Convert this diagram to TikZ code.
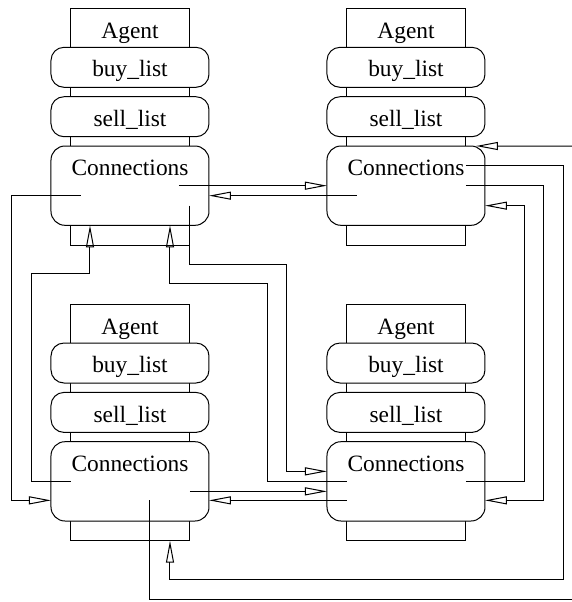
\documentclass[tikz,border=0pt]{standalone}
\usepackage{fontspec}
\setmainfont{Liberation Serif}
\usepackage{tikz}
\usetikzlibrary{positioning, calc, arrows.meta}

\tikzset{
	agentbox/.style={draw, minimum width=59.3pt, inner sep=0pt, outer sep=0pt, text height=15pt, text depth=103.35pt},
	listbox/.style={draw, fill=white, rounded corners=6.5pt, minimum width=79pt, inner sep=0pt, outer sep=0pt, text height=14.8pt, text depth=5.2pt},
	connbox/.style={listbox, rounded corners=7pt, text depth=24.85pt},
	flow/.style={-{Triangle[open, length=11pt, width=4pt]}}
}

\begin{document}
\begin{tikzpicture}[x=0.5pt, y=-0.5pt, line width=0.5pt, every node/.style={font=\fontsize{11.7}{13}\selectfont}]
					\useasboundingbox (0,0) rectangle (572,602);
					
					\node [agentbox, anchor=north] (nw) at (130,8.3) {Agent};
					\node [listbox, below=19.5pt of nw.north] (nw-buy) {buy\_list};
					\node [listbox, below=4.7pt of nw-buy] (nw-sell) {sell\_list};
					\node [connbox, below=4.65pt of nw-sell] (nw-conn) {Connections};
					
					\node [agentbox, anchor=north] (ne) at (406,8.3) {Agent};
					\node [listbox, below=19.5pt of ne.north] (ne-buy) {buy\_list};
					\node [listbox, below=4.7pt of ne-buy] (ne-sell) {sell\_list};
					\node [connbox, below=4.65pt of ne-sell] (ne-conn) {Connections};
					
					\node [agentbox, anchor=north] (sw) at (130,304) {Agent};
					\node [listbox, below=19.5pt of sw.north] (sw-buy) {buy\_list};
					\node [listbox, below=4.7pt of sw-buy] (sw-sell) {sell\_list};
					\node [connbox, below=4.65pt of sw-sell] (sw-conn) {Connections};
					
					\node [agentbox, anchor=north] (se) at (406,304) {Agent};
					\node [listbox, below=19.5pt of se.north] (se-buy) {buy\_list};
					\node [listbox, below=4.7pt of se-buy] (se-sell) {sell\_list};
					\node [connbox, below=4.65pt of se-sell] (se-conn) {Connections};
					
					\coordinate (edge-s) at (572,599.3);
					\coordinate (edge-n) at (572,146);
					
					\draw [flow] ($(nw-conn)+(49,0)$) -- (ne-conn.west);
					\draw [flow] ($(ne-conn)+(-49,10)$) -- ($(nw-conn.east)+(0,10)$);
					\draw [flow] ($(nw-conn)+(-49,10)$) -- ++(-69,0) |- ($(sw-conn.west)+(0,19)$);
					\draw [flow] ($(nw-conn)+(60,20)$) |- ++(97,59) |- ($(se-conn.west)+(0,-10)$);
					\draw [flow] ($(se-conn)+(-59,0)$) -| ++(-79,-198) -| ($(nw-conn.south)+(40,0)$);
					\draw [flow] ($(sw-conn)+(-59,0)$) -| ++(-39,-207.5) -| ($(nw-conn.south)+(-40,0)$);
					\draw [flow] ($(sw-conn)+(60,10)$) -- ($(se-conn.west)+(0,10)$);
					\draw [flow] ($(se-conn)+(-59,19)$) -- ($(sw-conn.east)+(0,19)$);
					\draw ($(sw-conn)+(20,19)$) |- (edge-s);
					\draw [flow] (edge-n) -- ($(ne-conn.north east)+(-9,0)$);
					\draw [flow] ($(ne-conn)+(60,-20)$) -| ++(98,413.6) -| ($(sw.south)+(40,0)$);
					\draw [flow] ($(ne-conn)+(60,0)$) -- ++(78,0) |- ($(se-conn.east)+(0,19)$);
					\draw [flow] ($(se-conn)+(60,0)$) -- ++(59,0) |- ($(ne-conn.east)+(0,20)$);
\end{tikzpicture}
\end{document}
